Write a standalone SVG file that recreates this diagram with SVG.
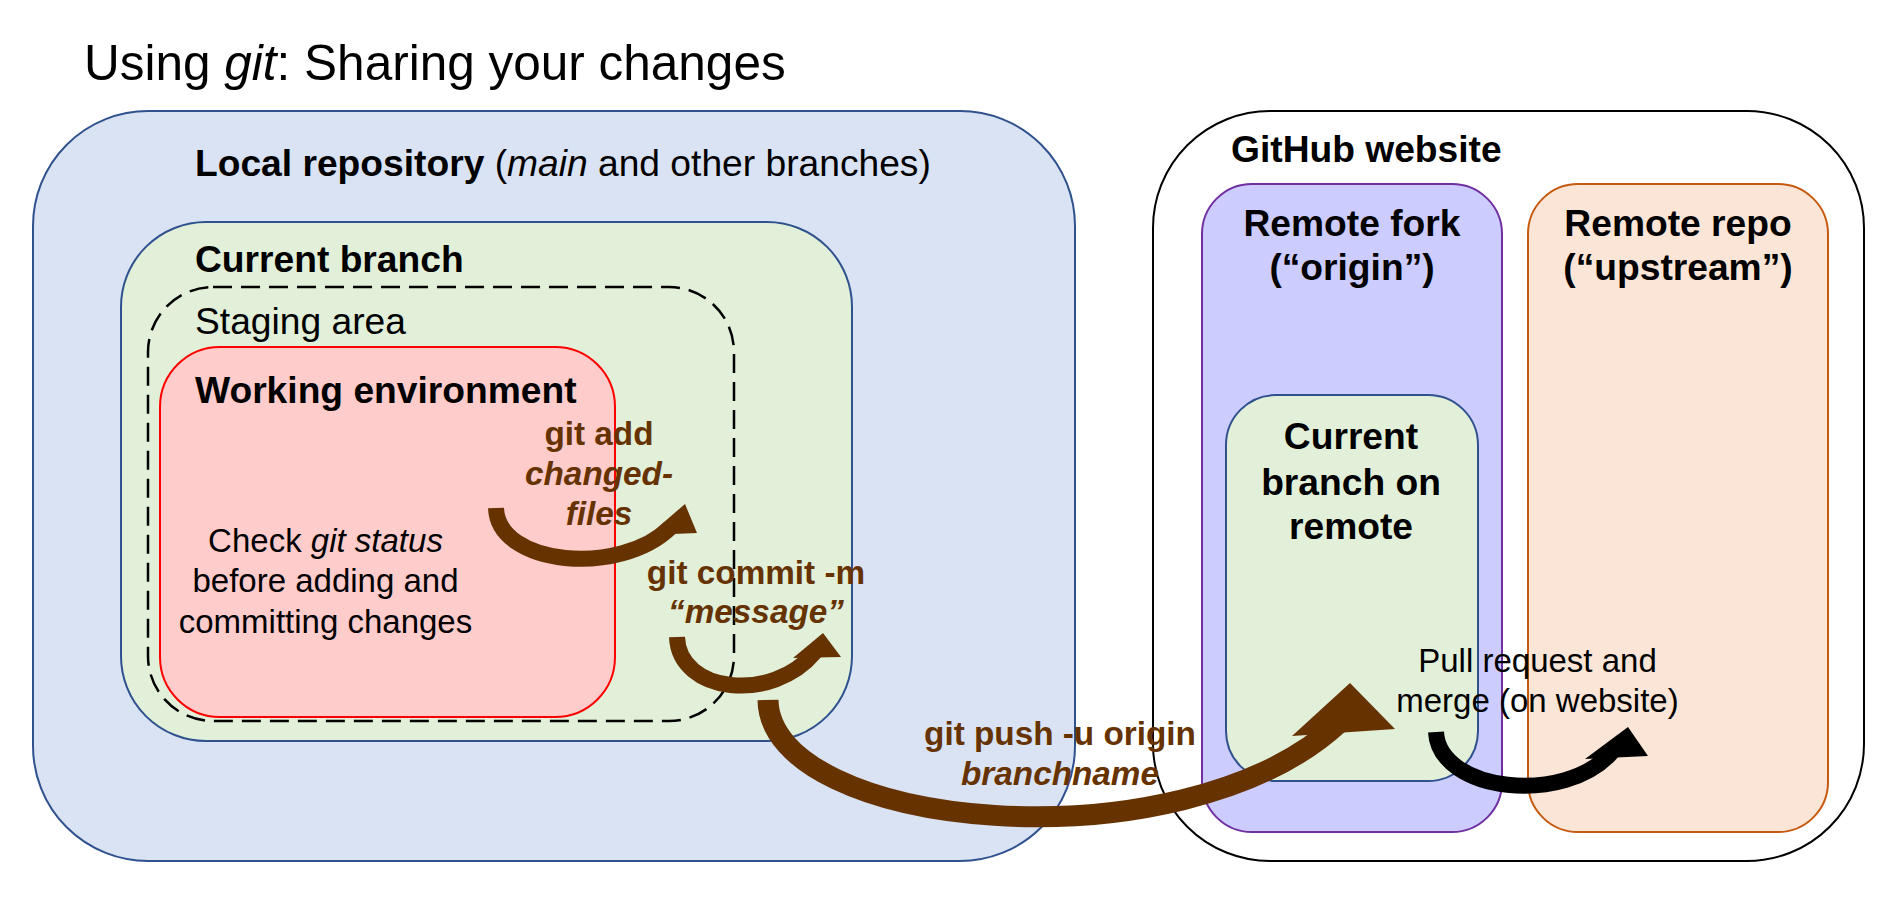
<svg xmlns="http://www.w3.org/2000/svg" width="1904" height="906" viewBox="0 0 1904 906">
<style>
text{font-family:"Liberation Sans",Arial,sans-serif;fill:#000}
.title{font-size:49.5px}
.h{font-size:37.2px;font-weight:bold}
.hr{font-size:37.2px}
.body{font-size:33px}
.br{font-size:33.3px;font-weight:bold;fill:#663300}
.it{font-style:italic}
.nb{font-weight:normal}
.box{stroke-width:2}
.band{fill:none;stroke:#663300;stroke-linecap:butt}
.head{fill:#663300}
</style>
<rect width="1904" height="906" fill="#fff"/>
<text class="title" x="84" y="80">Using <tspan class="it">git</tspan>: Sharing your changes</text>

<g id="local-repo">
<rect class="box" x="33" y="111" width="1042" height="750" rx="115" fill="#DAE3F3" stroke="#2F528F"/>
<text class="h" x="195" y="176">Local repository <tspan class="nb">(</tspan><tspan class="nb it">main</tspan><tspan class="nb"> and other branches)</tspan></text>
</g>
<g id="current-branch">
<rect class="box" x="121" y="222" width="731" height="519" rx="85" fill="#E2F0D9" stroke="#2F528F"/>
<text class="h" x="195" y="272">Current branch</text>
</g>
<g id="staging-area">
<rect x="148" y="287" width="586" height="434" rx="65" fill="none" stroke="#000" stroke-width="2.5" stroke-dasharray="19 9"/>
<text class="hr" x="195" y="334">Staging area</text>
</g>
<g id="working-env">
<rect class="box" x="160" y="347" width="455" height="370" rx="60" fill="#FFCCCC" stroke="#FF0000"/>
<text class="h" x="195" y="403">Working environment</text>
<text class="body" text-anchor="middle"><tspan x="325.5" y="552">Check <tspan class="it">git status</tspan></tspan><tspan x="325.5" y="592">before adding and</tspan><tspan x="325.5" y="633">committing changes</tspan></text>
</g>

<g id="github">
<rect class="box" x="1153" y="111" width="711" height="750" rx="117" fill="#FFFFFF" stroke="#000"/>
<text class="h" x="1231" y="162">GitHub website</text>
</g>
<g id="remote-fork">
<rect class="box" x="1202" y="184" width="300" height="648" rx="50" fill="#CCCCFF" stroke="#7030A0"/>
<text class="h" text-anchor="middle"><tspan x="1352" y="236">Remote fork</tspan><tspan x="1352" y="280">(“origin”)</tspan></text>
</g>
<g id="remote-branch">
<rect class="box" x="1226" y="395" width="252" height="386" rx="50" fill="#E2F0D9" stroke="#2F528F"/>
<text class="h" text-anchor="middle"><tspan x="1351" y="449">Current</tspan><tspan x="1351" y="495">branch on</tspan><tspan x="1351" y="539">remote</tspan></text>
</g>
<g id="remote-repo">
<rect class="box" x="1528" y="184" width="300" height="648" rx="50" fill="#FBE5D6" stroke="#C55A11"/>
<text class="h" text-anchor="middle"><tspan x="1678" y="236">Remote repo</tspan><tspan x="1678" y="280">(“upstream”)</tspan></text>
</g>

<g id="connectors">
<g id="edge-add">
<text class="br" text-anchor="middle"><tspan x="599" y="445">git add</tspan><tspan class="it" x="599" y="485">changed-</tspan><tspan class="it" x="599" y="525">files</tspan></text>
<path class="band" stroke-width="16" d="M496,508 C498,566 620,577 671,527"/>
<polygon class="head" points="649,535 685,504 697,533"/>
</g>
<g id="edge-commit">
<text class="br" text-anchor="middle"><tspan x="756" y="584">git commit -m</tspan><tspan class="it" x="756" y="623">“message”</tspan></text>
<path class="band" stroke-width="16" d="M677,637 C679,693 772,704 815,652"/>
<polygon class="head" points="793,658 823,633 841,657"/>
</g>
<g id="edge-push">
<text class="br" text-anchor="middle"><tspan x="1060" y="745">git push -u origin</tspan><tspan class="it" x="1060" y="785">branchname</tspan></text>
<path class="band" stroke-width="21" d="M768,700 C770,830 1180,870 1339,723"/>
<polygon class="head" points="1292,736 1350,683 1395,729"/>
</g>
<g id="edge-pr">
<text class="body" text-anchor="middle"><tspan x="1537.5" y="672">Pull request and</tspan><tspan x="1537.5" y="712">merge (on website)</tspan></text>
<path fill="none" stroke="#000" stroke-width="16" d="M1436,732 C1439,792 1565,806 1612,752"/>
<polygon fill="#000" points="1585,759 1628,727 1648,756"/>
</g>
</g>
</svg>
